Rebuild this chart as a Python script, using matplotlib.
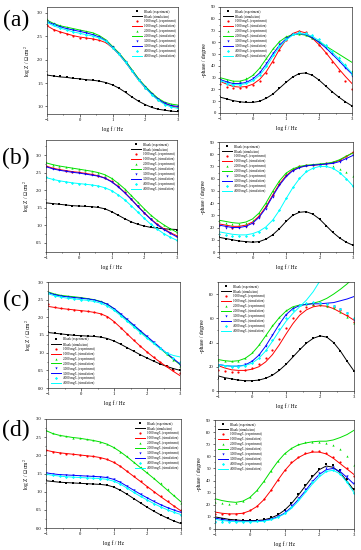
import matplotlib
matplotlib.use('Agg')
import matplotlib.pyplot as plt
from matplotlib.ticker import MultipleLocator

plt.rcParams['font.family'] = ['Liberation Serif', 'DejaVu Serif']
plt.rcParams['mathtext.fontset'] = 'stix'

# ---------------- data ----------------
log_f = [-1.0, -0.8, -0.6, -0.4, -0.2, 0.0, 0.2, 0.4, 0.6, 0.8, 1.0,
         1.2, 1.4, 1.6, 1.8, 2.0, 2.2, 2.4, 2.6, 2.8, 3.0]

series_names = ["Blank", "1000 mg/L", "2000 mg/L", "3000 mg/L", "4000 mg/L"]

# (a) log Z
a_z_blank_exp = [1.68, 1.66, 1.64, 1.62, 1.60, 1.59, 1.57, 1.56, 1.54, 1.51, 1.46, 1.39, 1.30, 1.20, 1.11, 1.04, 0.98, 0.95, 0.92, 0.91, 0.90]
a_z_blank_sim = [1.67, 1.65, 1.63, 1.62, 1.60, 1.59, 1.57, 1.56, 1.54, 1.51, 1.46, 1.39, 1.30, 1.20, 1.11, 1.04, 0.98, 0.94, 0.92, 0.90, 0.89]
a_z_1000_exp = [2.73, 2.64, 2.58, 2.54, 2.50, 2.47, 2.45, 2.43, 2.41, 2.37, 2.25, 2.11, 1.94, 1.75, 1.56, 1.40, 1.26, 1.14, 1.06, 1.01, 0.98]
a_z_1000_sim = [2.72, 2.64, 2.59, 2.55, 2.51, 2.48, 2.46, 2.44, 2.41, 2.36, 2.25, 2.11, 1.94, 1.75, 1.56, 1.40, 1.26, 1.14, 1.06, 1.01, 0.98]
a_z_2000_exp = [2.86, 2.78, 2.73, 2.69, 2.66, 2.63, 2.60, 2.57, 2.51, 2.42, 2.28, 2.14, 1.97, 1.78, 1.59, 1.43, 1.29, 1.17, 1.09, 1.05, 1.03]
a_z_2000_sim = [2.84, 2.77, 2.72, 2.69, 2.66, 2.63, 2.60, 2.57, 2.51, 2.42, 2.28, 2.14, 1.97, 1.78, 1.59, 1.43, 1.29, 1.17, 1.09, 1.05, 1.03]
a_z_3000_exp = [2.82, 2.75, 2.70, 2.66, 2.63, 2.60, 2.57, 2.53, 2.48, 2.40, 2.26, 2.12, 1.95, 1.76, 1.57, 1.41, 1.27, 1.15, 1.07, 1.02, 1.00]
a_z_3000_sim = [2.81, 2.75, 2.70, 2.66, 2.63, 2.60, 2.57, 2.53, 2.48, 2.40, 2.26, 2.12, 1.95, 1.76, 1.57, 1.41, 1.27, 1.15, 1.07, 1.02, 1.00]
a_z_4000_exp = [2.80, 2.73, 2.67, 2.63, 2.59, 2.56, 2.53, 2.50, 2.46, 2.39, 2.25, 2.11, 1.94, 1.75, 1.56, 1.40, 1.25, 1.13, 1.04, 0.99, 0.96]
a_z_4000_sim = [2.79, 2.72, 2.67, 2.63, 2.59, 2.56, 2.53, 2.50, 2.46, 2.39, 2.25, 2.11, 1.94, 1.75, 1.56, 1.40, 1.25, 1.13, 1.04, 0.99, 0.96]

# (a) phase
a_p_blank_exp = [13.5, 12, 10.5, 9.5, 9, 9, 10, 12.5, 16, 21, 26, 30.5, 33.5, 34, 32, 28, 23, 18, 13.5, 9.5, 6]
a_p_blank_sim = [13.5, 12, 10.5, 9.5, 9, 9, 10, 12.5, 16, 21, 26, 30.5, 33.5, 34, 32, 28, 23, 18, 13.5, 9.5, 6]
a_p_1000_exp = [25, 22.5, 21.5, 21.5, 22, 23.5, 27.5, 34, 43, 53.5, 62, 67.5, 69.5, 68.5, 64, 58, 51, 43.5, 36, 27.5, 20]
a_p_1000_sim = [27, 24.5, 22.5, 22, 22.5, 24.5, 28.5, 35, 44, 54, 62, 67.5, 69.5, 68, 63.5, 58, 51.5, 44.5, 37.5, 31, 25]
a_p_2000_exp = [30, 28, 27, 27.5, 29.5, 33, 39, 47, 55, 61, 65, 67, 67.5, 66.5, 64, 60.5, 56.5, 52, 47.5, 42, 36]
a_p_2000_sim = [30, 28.5, 27, 27, 28.5, 32, 38, 46, 54, 60.5, 64.5, 66.5, 67, 66, 63.5, 60.5, 57, 53.5, 50, 46.5, 43]
a_p_3000_exp = [28, 26, 25, 25.5, 27, 30, 35, 42.5, 51, 58.5, 64, 67, 68, 67, 64.5, 60.5, 55.5, 50, 44, 38, 31]
a_p_3000_sim = [28.5, 26.5, 25, 25, 26, 29, 34, 41.5, 50, 57.5, 63, 66.5, 67.5, 66.5, 64, 60, 55.5, 50, 44.5, 38.5, 33]
a_p_4000_exp = [27, 25, 24, 24, 25.5, 28, 32.5, 40, 49, 57, 63, 67, 68.5, 68, 66, 62.5, 58, 53, 47, 41, 33]
a_p_4000_sim = [27.5, 25.5, 24, 24, 25, 27.5, 32, 39, 48, 56, 62, 66, 67.5, 67, 65, 61.5, 57, 51.5, 46, 40, 34]

# (b) log Z
b_z_blank_exp = [1.64, 1.62, 1.60, 1.58, 1.56, 1.55, 1.54, 1.53, 1.51, 1.47, 1.39, 1.29, 1.19, 1.10, 1.03, 0.98, 0.94, 0.92, 0.90, 0.89, 0.88]
b_z_blank_sim = [1.64, 1.62, 1.60, 1.58, 1.56, 1.55, 1.54, 1.53, 1.51, 1.47, 1.39, 1.29, 1.19, 1.10, 1.03, 0.98, 0.94, 0.92, 0.90, 0.89, 0.88]
b_z_1000_exp = [2.70, 2.63, 2.59, 2.56, 2.53, 2.51, 2.48, 2.45, 2.41, 2.35, 2.25, 2.11, 1.94, 1.75, 1.55, 1.36, 1.18, 1.03, 0.90, 0.79, 0.70]
b_z_1000_sim = [2.69, 2.63, 2.59, 2.56, 2.53, 2.51, 2.48, 2.45, 2.41, 2.35, 2.25, 2.11, 1.94, 1.75, 1.55, 1.36, 1.18, 1.03, 0.90, 0.79, 0.70]
b_z_2000_exp = [2.79, 2.73, 2.69, 2.66, 2.63, 2.60, 2.57, 2.54, 2.50, 2.44, 2.34, 2.20, 2.04, 1.85, 1.66, 1.47, 1.29, 1.14, 1.01, 0.90, 0.80]
b_z_2000_sim = [2.78, 2.73, 2.69, 2.66, 2.63, 2.60, 2.57, 2.54, 2.50, 2.44, 2.34, 2.20, 2.04, 1.85, 1.66, 1.47, 1.29, 1.14, 1.01, 0.90, 0.80]
b_z_3000_exp = [2.67, 2.61, 2.57, 2.54, 2.51, 2.49, 2.46, 2.43, 2.40, 2.34, 2.24, 2.10, 1.93, 1.74, 1.54, 1.35, 1.17, 1.01, 0.88, 0.77, 0.67]
b_z_3000_sim = [2.67, 2.61, 2.57, 2.54, 2.51, 2.49, 2.46, 2.43, 2.40, 2.34, 2.24, 2.10, 1.93, 1.74, 1.54, 1.35, 1.17, 1.01, 0.88, 0.77, 0.67]
b_z_4000_exp = [2.38, 2.31, 2.27, 2.24, 2.21, 2.19, 2.17, 2.15, 2.12, 2.07, 1.99, 1.87, 1.73, 1.56, 1.38, 1.20, 1.03, 0.89, 0.76, 0.66, 0.57]
b_z_4000_sim = [2.36, 2.31, 2.27, 2.24, 2.21, 2.19, 2.17, 2.15, 2.12, 2.07, 1.99, 1.87, 1.73, 1.56, 1.38, 1.20, 1.03, 0.89, 0.76, 0.66, 0.57]

# (b) phase
b_p_blank_exp = [12, 11, 10, 9, 8.5, 8, 8.5, 10.5, 14, 19, 25, 30, 32.5, 33, 31, 27, 21.5, 16, 11.5, 8, 5.5]
b_p_blank_sim = [12, 11, 10, 9, 8.5, 8, 8.5, 10.5, 14, 19, 25, 30, 32.5, 33, 31, 27, 21.5, 16, 11.5, 8, 5.5]
b_p_1000_exp = [22, 21, 20, 20.5, 21.5, 24, 29.5, 37.5, 47, 56, 63, 67.5, 70, 71, 71.5, 72, 72.5, 73.5, 75.5, 78.5, 82]
b_p_1000_sim = [23, 22, 21, 21, 22, 24.5, 29.5, 37, 46.5, 55.5, 62.5, 67, 69.5, 70.5, 71, 71.5, 72, 73, 75, 78, 81.5]
b_p_2000_exp = [25, 24, 23, 23, 24, 26.5, 32, 40, 50, 58.5, 65, 68.5, 70.5, 71.5, 72, 72, 71.5, 70, 68, 65.5, 62]
b_p_2000_sim = [26, 25, 24, 23.5, 24.5, 27, 32, 40, 49.5, 58, 64.5, 68, 70, 71, 71.5, 72, 72.5, 73.5, 75.5, 78.5, 81]
b_p_3000_exp = [21, 20, 19.5, 19.5, 20.5, 23, 28, 35.5, 45, 54.5, 62, 66.5, 69, 70.5, 71, 71.5, 72, 72.5, 74, 76.5, 79]
b_p_3000_sim = [22, 21, 20, 20, 21, 23.5, 28.5, 36, 45.5, 54.5, 61.5, 66.5, 69, 70.5, 71, 71.5, 72, 72.5, 74, 76.5, 79]
b_p_4000_exp = [15, 14, 13, 13, 13, 14, 16, 20, 26, 34.5, 44, 53, 60.5, 66, 69, 70, 70, 68.5, 65, 60, 54]
b_p_4000_sim = [16.5, 15.5, 14.5, 14, 14, 15, 17, 20.5, 26, 34, 43.5, 52.5, 60, 65.5, 68.5, 70, 70, 68.5, 65, 60, 54]

# (c) log Z
c_z_blank_exp = [1.59, 1.56, 1.53, 1.51, 1.49, 1.48, 1.47, 1.46, 1.44, 1.40, 1.33, 1.24, 1.14, 1.04, 0.94, 0.85, 0.76, 0.68, 0.61, 0.55, 0.52]
c_z_blank_sim = [1.57, 1.55, 1.53, 1.51, 1.49, 1.48, 1.47, 1.46, 1.44, 1.40, 1.33, 1.24, 1.14, 1.04, 0.94, 0.85, 0.76, 0.68, 0.61, 0.55, 0.50]
c_z_1000_exp = [2.38, 2.30, 2.26, 2.23, 2.21, 2.19, 2.17, 2.14, 2.10, 2.02, 1.88, 1.71, 1.53, 1.35, 1.18, 1.02, 0.88, 0.75, 0.63, 0.52, 0.42]
c_z_1000_sim = [2.31, 2.28, 2.25, 2.23, 2.21, 2.19, 2.17, 2.14, 2.10, 2.02, 1.88, 1.71, 1.53, 1.35, 1.18, 1.02, 0.87, 0.73, 0.60, 0.47, 0.35]
c_z_2000_exp = [2.73, 2.66, 2.62, 2.60, 2.58, 2.56, 2.53, 2.50, 2.45, 2.37, 2.24, 2.08, 1.92, 1.76, 1.60, 1.44, 1.28, 1.12, 0.96, 0.78, 0.62]
c_z_2000_sim = [2.72, 2.66, 2.62, 2.60, 2.58, 2.56, 2.53, 2.50, 2.45, 2.37, 2.24, 2.08, 1.92, 1.76, 1.60, 1.44, 1.28, 1.12, 0.96, 0.81, 0.66]
c_z_3000_exp = [2.70, 2.64, 2.60, 2.58, 2.56, 2.54, 2.52, 2.49, 2.44, 2.37, 2.25, 2.10, 1.94, 1.78, 1.62, 1.46, 1.30, 1.14, 0.98, 0.81, 0.65]
c_z_3000_sim = [2.70, 2.64, 2.60, 2.58, 2.56, 2.54, 2.52, 2.49, 2.44, 2.37, 2.25, 2.10, 1.94, 1.78, 1.62, 1.46, 1.30, 1.14, 0.98, 0.83, 0.68]
c_z_4000_exp = [2.68, 2.61, 2.57, 2.54, 2.52, 2.50, 2.48, 2.45, 2.40, 2.32, 2.20, 2.05, 1.89, 1.73, 1.57, 1.42, 1.27, 1.12, 0.98, 0.86, 0.75]
c_z_4000_sim = [2.67, 2.61, 2.57, 2.54, 2.52, 2.50, 2.48, 2.45, 2.40, 2.32, 2.20, 2.05, 1.89, 1.73, 1.57, 1.41, 1.26, 1.11, 0.99, 0.92, 0.88]

# (c) phase
c_p_blank_exp = [10.5, 10, 9.5, 9, 8.5, 8.5, 9, 10.5, 13.5, 17.5, 22.5, 28.5, 34.5, 40, 44, 45.5, 44.5, 40, 33, 24.5, 16.5]
c_p_blank_sim = [12.5, 11, 10, 9, 8.5, 8.5, 9, 10.5, 13, 17, 22, 28, 34, 39.5, 43.5, 45.5, 44.5, 40, 33, 24.5, 16.5]
c_p_1000_exp = [17.5, 16.5, 16, 16, 17, 19, 22, 27, 34, 43, 52, 60, 66, 69.5, 71, 71, 70.5, 69, 66.5, 62.5, 57]
c_p_1000_sim = [21, 19, 17.5, 17, 17, 18, 20, 24, 30, 38, 47, 55.5, 62.5, 67, 69.5, 70.5, 70, 68, 65, 62, 58.5]
c_p_2000_exp = [25.5, 24.5, 24.5, 25, 27.5, 32, 38.5, 46.5, 54.5, 61.5, 66.5, 69.5, 71, 72, 72, 71.5, 70.5, 68.5, 65.5, 61, 56]
c_p_2000_sim = [26, 25, 24.5, 25, 27, 31, 37.5, 45.5, 53.5, 60.5, 66, 69.5, 71, 71.5, 72.5, 74, 76.5, 80, 84, 88.5, 94]
c_p_3000_exp = [21, 20.5, 20, 20.5, 22, 25, 30, 37.5, 46.5, 55.5, 63, 68, 71, 72, 72.5, 72.5, 72, 70.5, 68, 64, 59]
c_p_3000_sim = [22, 21, 20.5, 20.5, 21.5, 24.5, 29.5, 37, 46, 55, 63, 68, 70.5, 71.5, 72, 72, 72.5, 73, 74.5, 76, 78]
c_p_4000_exp = [21, 20.5, 20, 20, 21, 23, 27.5, 34, 42.5, 51.5, 60, 66.5, 71, 73, 73.5, 73, 72, 70.5, 68, 64, 60]
c_p_4000_sim = [22, 21, 20.5, 20.5, 21, 23, 27, 33, 41, 49.5, 57.5, 64, 69.5, 75, 82, 91, 100, 110, 120, 130, 140]

# (d) log Z
d_z_blank_exp = [1.31, 1.28, 1.26, 1.25, 1.24, 1.23, 1.22, 1.21, 1.20, 1.18, 1.13, 1.04, 0.93, 0.81, 0.69, 0.57, 0.46, 0.36, 0.27, 0.19, 0.13]
d_z_blank_sim = [1.30, 1.28, 1.26, 1.25, 1.24, 1.23, 1.22, 1.21, 1.20, 1.18, 1.13, 1.04, 0.93, 0.81, 0.69, 0.57, 0.46, 0.36, 0.27, 0.19, 0.12]
d_z_1000_exp = [2.14, 2.10, 2.07, 2.05, 2.03, 2.01, 1.99, 1.97, 1.94, 1.89, 1.81, 1.70, 1.56, 1.42, 1.28, 1.14, 1.00, 0.87, 0.74, 0.61, 0.49]
d_z_1000_sim = [2.14, 2.10, 2.07, 2.05, 2.03, 2.01, 1.99, 1.97, 1.94, 1.89, 1.81, 1.70, 1.56, 1.42, 1.28, 1.14, 1.00, 0.86, 0.73, 0.60, 0.47]
d_z_2000_exp = [2.70, 2.61, 2.56, 2.52, 2.49, 2.47, 2.44, 2.41, 2.37, 2.31, 2.22, 2.10, 1.97, 1.83, 1.68, 1.53, 1.38, 1.23, 1.08, 0.92, 0.70]
d_z_2000_sim = [2.68, 2.60, 2.55, 2.52, 2.49, 2.47, 2.44, 2.41, 2.37, 2.31, 2.22, 2.10, 1.96, 1.81, 1.66, 1.51, 1.36, 1.20, 1.04, 0.88, 0.72]
d_z_3000_exp = [1.52, 1.49, 1.47, 1.46, 1.45, 1.44, 1.43, 1.42, 1.41, 1.39, 1.34, 1.26, 1.15, 1.04, 0.93, 0.83, 0.73, 0.64, 0.56, 0.49, 0.43]
d_z_3000_sim = [1.52, 1.49, 1.47, 1.46, 1.45, 1.44, 1.43, 1.42, 1.41, 1.39, 1.34, 1.26, 1.15, 1.04, 0.93, 0.83, 0.73, 0.64, 0.56, 0.49, 0.43]
d_z_4000_exp = [1.48, 1.45, 1.43, 1.41, 1.40, 1.39, 1.38, 1.37, 1.36, 1.34, 1.29, 1.21, 1.10, 0.98, 0.87, 0.77, 0.67, 0.58, 0.50, 0.43, 0.37]
d_z_4000_sim = [1.48, 1.45, 1.43, 1.41, 1.40, 1.39, 1.38, 1.37, 1.36, 1.34, 1.29, 1.21, 1.10, 0.98, 0.87, 0.77, 0.67, 0.58, 0.50, 0.43, 0.37]

# (d) phase
d_p_blank_exp = [8, 8, 7.5, 7.5, 7.5, 7.5, 7.5, 8, 9.5, 12, 16, 21.5, 28.5, 36, 43.5, 49.5, 53.5, 53, 48.5, 41, 33]
d_p_blank_sim = [10, 9, 8, 7.5, 7, 7, 7, 7.5, 9, 11.5, 15.5, 21, 28, 35.5, 43, 49, 52, 51, 46.5, 39.5, 32]
d_p_1000_exp = [12, 12, 12, 12.5, 13.5, 15.5, 19, 24.5, 32, 40.5, 48.5, 55, 59.5, 62.5, 64, 64, 62.5, 59.5, 55, 50, 44]
d_p_1000_sim = [14, 13, 12.5, 12.5, 13, 15, 18.5, 24, 31.5, 40, 48, 54.5, 59, 62, 63.5, 63.5, 62, 58.5, 54, 49.5, 45]
d_p_2000_exp = [22, 21.5, 21, 21.5, 23, 26.5, 32, 39.5, 48, 56, 62.5, 67, 70, 71.5, 72, 72, 71, 69, 66, 60.5, 53]
d_p_2000_sim = [25, 23.5, 22.5, 22, 23, 26, 31.5, 39, 47.5, 55.5, 62, 66.5, 69.5, 71, 72, 72.5, 72.5, 73.5, 75.5, 78, 81.5]
d_p_3000_exp = [6, 7, 7, 6.5, 6, 6, 6.5, 7, 8.5, 11, 14.5, 19.5, 26, 33, 40, 46, 50, 51, 49, 44, 38]
d_p_3000_sim = [9, 8, 7, 6.5, 6.5, 6.5, 6.5, 7, 8, 10, 13, 18, 24.5, 31.5, 39, 45, 49, 50, 47.5, 42.5, 37]
d_p_4000_exp = [6, 6, 6, 6, 6, 6, 6.5, 7, 8, 10, 13.5, 18, 24.5, 31.5, 38.5, 44.5, 48, 48.5, 45.5, 38.5, 29.5]
d_p_4000_sim = [8, 7, 6.5, 6, 6, 6, 6, 6.5, 7.5, 9.5, 12.5, 17, 23, 30, 37, 43, 47.5, 48.5, 45.5, 38.5, 30]

# ---------------- styling ----------------
colors = ['#000000', '#ff0000', '#00e000', '#0000ff', '#00ffff']
markers = ['s', 'o', '^', 'v', 'D']

W, H = 361, 550
fig = plt.figure(figsize=(W / 100, H / 100), dpi=100)


def add_ax(l, t, r, b):
    return fig.add_axes([l / W, 1 - b / H, (r - l) / W, (b - t) / H])


panels = [
    ((47, 7, 178, 114), [a_z_blank_exp, a_z_1000_exp, a_z_2000_exp, a_z_3000_exp, a_z_4000_exp],
     [a_z_blank_sim, a_z_1000_sim, a_z_2000_sim, a_z_3000_sim, a_z_4000_sim],
     (0.84, 3.12), 0.5, 0.25, 'z', 'upper right'),
    ((220, 7, 352, 113), [a_p_blank_exp, a_p_1000_exp, a_p_2000_exp, a_p_3000_exp, a_p_4000_exp],
     [a_p_blank_sim, a_p_1000_sim, a_p_2000_sim, a_p_3000_sim, a_p_4000_sim],
     (0, 90), 10, 5, 'p', 'upper left'),
    ((46, 140, 177, 252), [b_z_blank_exp, b_z_1000_exp, b_z_2000_exp, b_z_3000_exp, b_z_4000_exp],
     [b_z_blank_sim, b_z_1000_sim, b_z_2000_sim, b_z_3000_sim, b_z_4000_sim],
     (0.24, 3.43), 0.5, 0.25, 'z', 'upper right'),
    ((219, 142, 353, 252), [b_p_blank_exp, b_p_1000_exp, b_p_2000_exp, b_p_3000_exp, b_p_4000_exp],
     [b_p_blank_sim, b_p_1000_sim, b_p_2000_sim, b_p_3000_sim, b_p_4000_sim],
     (0, 90), 10, 5, 'p', 'upper left'),
    ((48, 282, 180, 388), [c_z_blank_exp, c_z_1000_exp, c_z_2000_exp, c_z_3000_exp, c_z_4000_exp],
     [c_z_blank_sim, c_z_1000_sim, c_z_2000_sim, c_z_3000_sim, c_z_4000_sim],
     (0, 3.0), 0.5, 0.25, 'z', 'lower left'),
    ((218, 282, 354, 391), [c_p_blank_exp, c_p_1000_exp, c_p_2000_exp, c_p_3000_exp, c_p_4000_exp],
     [c_p_blank_sim, c_p_1000_sim, c_p_2000_sim, c_p_3000_sim, c_p_4000_sim],
     (0, 90), 20, 10, 'p', 'upper left'),
    ((46, 419, 181, 528), [d_z_blank_exp, d_z_1000_exp, d_z_2000_exp, d_z_3000_exp, d_z_4000_exp],
     [d_z_blank_sim, d_z_1000_sim, d_z_2000_sim, d_z_3000_sim, d_z_4000_sim],
     (0, 3.0), 0.5, 0.25, 'z', 'upper right'),
    ((215, 420, 354, 529), [d_p_blank_exp, d_p_1000_exp, d_p_2000_exp, d_p_3000_exp, d_p_4000_exp],
     [d_p_blank_sim, d_p_1000_sim, d_p_2000_sim, d_p_3000_sim, d_p_4000_sim],
     (0, 90), 10, 5, 'p', 'upper left'),
]

for box, exps, sims, ylim, ymaj, ymin, kind, loc in panels:
    ax = add_ax(*box)
    for i, name in enumerate(series_names):
        ax.plot(log_f, exps[i], linestyle='none', marker=markers[i], color=colors[i],
                markersize=1.6, markeredgewidth=0, label=f"{name} (experiment)")
        ax.plot(log_f, sims[i], color=colors[i], linewidth=0.7,
                label=f"{name} (simulation)")
    ax.set_xlim(-1, 3)
    ax.set_ylim(*ylim)
    ax.xaxis.set_major_locator(MultipleLocator(1))
    ax.xaxis.set_minor_locator(MultipleLocator(0.5))
    ax.yaxis.set_major_locator(MultipleLocator(ymaj))
    ax.yaxis.set_minor_locator(MultipleLocator(ymin))
    if kind == 'z':
        ax.yaxis.set_major_formatter(matplotlib.ticker.FormatStrFormatter('%.1f'))
    ax.tick_params(which='both', direction='out', labelsize=3.3, width=0.4, pad=1.2)
    ax.tick_params(which='major', length=1.8)
    ax.tick_params(which='minor', length=1.0)
    for sp in ax.spines.values():
        sp.set_linewidth(0.5)
        sp.set_color('#333333')
    ax.set_xlabel('log f / Hz', fontsize=4, labelpad=3)
    if kind == 'z':
        ax.set_ylabel('log Z / Ω cm$^2$', fontsize=4, labelpad=3)
    else:
        ax.set_ylabel('-phase / degree', fontsize=4, labelpad=3)
    ax.legend(loc=loc, fontsize=2.3, frameon=False, handlelength=3.2,
              labelspacing=0.3, handletextpad=0.6, borderaxespad=0.5,
              borderpad=0.3)

for lab, yy in [('(a)', 20), ('(b)', 158), ('(c)', 300), ('(d)', 430)]:
    fig.text(16 / W, 1 - yy / H, lab, fontsize=17, ha='center', va='center')

fig.savefig('out.png', dpi=100)
